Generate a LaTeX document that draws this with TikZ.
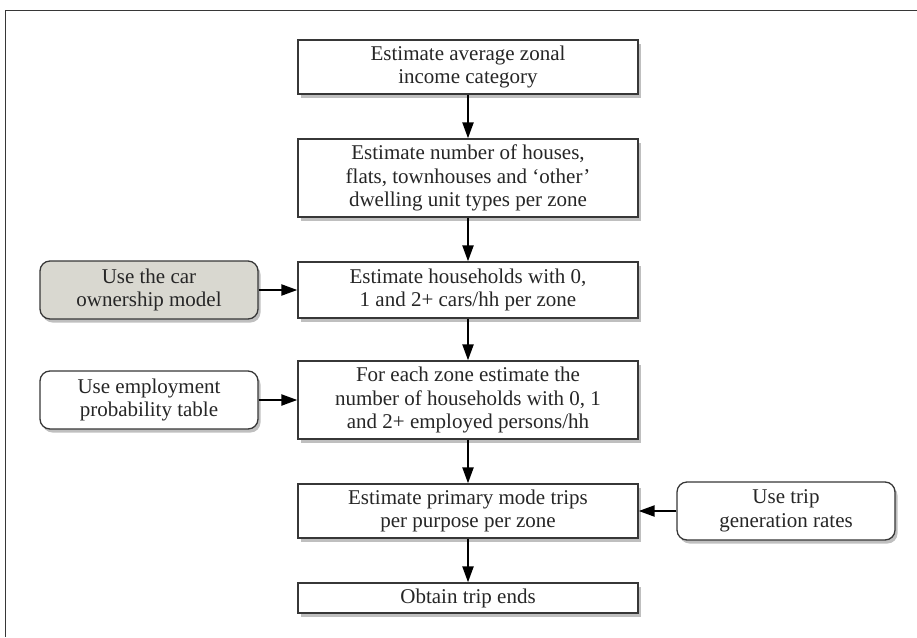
\documentclass[tikz,border=0pt]{standalone}
\usepackage{fontspec}
\setmainfont{Liberation Serif}
\usetikzlibrary{shadows,arrows.meta}
\definecolor{ownergray}{RGB}{217,216,208}
\definecolor{linegray}{RGB}{55,55,55}
\begin{document}
\begin{tikzpicture}[x=1pt,y=-1pt,every node/.style={align=center, text=black!85, font=\fontsize{21}{23.5}\selectfont, inner sep=2pt},stepbox/.style={draw=linegray, line width=1.3pt, fill=white, minimum width=340pt, drop shadow={shadow xshift=2.5pt, shadow yshift=-3.5pt, opacity=0.5}},usebox/.style={stepbox, rounded corners=10pt, minimum width=218pt, minimum height=58pt},flow/.style={line width=2.2pt, -{Triangle[length=16pt,width=11pt]}}]
\useasboundingbox (0,0) rectangle (917,637);
\draw[linegray, line width=1pt] (917,10) -- (5,10) -- (5,637);
\node[stepbox, minimum height=54pt] (income) at (468,67) {Estimate average zonal\\income category};
\node[stepbox, minimum height=78pt] (dwelling) at (468,178) {Estimate number of houses,\\flats, townhouses and `other'\\dwelling unit types per zone};
\node[stepbox, minimum height=56pt] (cars) at (468,290) {Estimate households with 0,\\1 and 2+ cars/hh per zone};
\node[stepbox, minimum height=78pt] (employed) at (468,400) {For each zone estimate the\\number of households with 0, 1\\and 2+ employed persons/hh};
\node[stepbox, minimum height=54pt] (trips) at (468,511) {Estimate primary mode trips\\per purpose per zone};
\node[stepbox, minimum height=30pt] (ends) at (468,598) {Obtain trip ends};
\node[usebox, fill=ownergray] (carmodel) at (149,290) {Use the car\\ownership model};
\node[usebox] (emptable) at (149,400) {Use employment\\probability table};
\node[usebox] (triprates) at (786,511) {Use trip\\generation rates};
\draw[flow] (income) -- (dwelling);
\draw[flow] (dwelling) -- (cars);
\draw[flow] (cars) -- (employed);
\draw[flow] (employed) -- (trips);
\draw[flow] (trips) -- (ends);
\draw[flow] (carmodel) -- (cars);
\draw[flow] (emptable) -- (employed);
\draw[flow] (triprates) -- (trips);
\end{tikzpicture}
\end{document}
